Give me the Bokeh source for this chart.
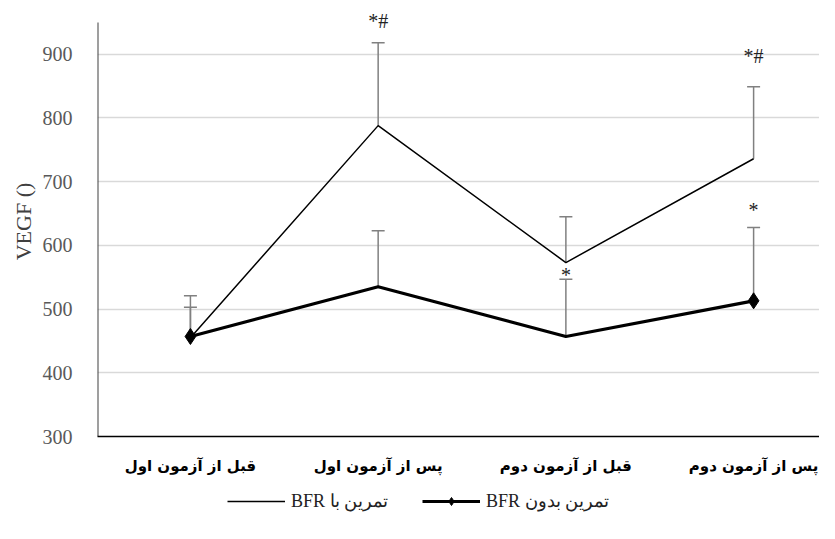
from bokeh.plotting import figure
from bokeh.layouts import column
from bokeh.models import (Range1d, FixedTicker, Legend, LegendItem, Label)
from bokeh.embed import file_html
from bokeh.resources import INLINE

# ---- data ----
categories = ["قبل از آزمون اول", "پس از آزمون اول", "قبل از آزمون دوم", "پس از آزمون دوم"]
with_bfr = [455, 788, 573, 736]
with_bfr_err = [66, 130, 72, 113]
without_bfr = [457, 535, 457, 513]
without_bfr_err = [46, 88, 90, 115]
without_marker_idx = [0, 3]
legend_with = "BFR تمرین با"
legend_without = "BFR تمرین بدون"
y_ticks = [300, 400, 500, 600, 700, 800, 900]
y_label = "VEGF ()"
y_min, y_axis_top = 300, 950
sig_x = [2, 4, 3, 4]
sig_y = [952, 898, 553, 655]
sig_text = ["*#", "*#", "*", "*"]

xs = [1, 2, 3, 4]
x_start = 0.505

p = figure(width=819, height=480, output_backend="svg", toolbar_location=None,
           x_range=Range1d(x_start, 4.351), y_range=Range1d(y_min, 975),
           min_border_left=97, min_border_right=0, min_border_top=6,
           min_border_bottom=44)
p.outline_line_color = None

# grid
p.xgrid.grid_line_color = None
p.ygrid.grid_line_color = "#d9d9d9"
p.ygrid.grid_line_width = 1.3
p.ygrid.ticker = FixedTicker(ticks=y_ticks[1:])

# axes
p.yaxis.ticker = FixedTicker(ticks=y_ticks)
p.yaxis.major_tick_line_color = None
p.yaxis.minor_tick_line_color = None
p.yaxis.axis_line_color = None
p.yaxis.major_label_text_font = "Liberation Serif"
p.yaxis.major_label_text_font_size = "20px"
p.yaxis.major_label_text_color = "#595959"
p.yaxis.major_label_standoff = 19
p.yaxis.axis_label = y_label
p.yaxis.axis_label_text_font = "Liberation Serif"
p.yaxis.axis_label_text_font_style = "normal"
p.yaxis.axis_label_text_font_size = "22px"
p.yaxis.axis_label_text_color = "#404040"
p.yaxis.axis_label_standoff = 4

p.xaxis.ticker = FixedTicker(ticks=xs)
p.xaxis.major_label_overrides = {x: c for x, c in zip(xs, categories)}
p.xaxis.major_tick_line_color = None
p.xaxis.minor_tick_line_color = None
p.xaxis.axis_line_color = "black"
p.xaxis.axis_line_width = 1.5
p.xaxis.major_label_text_font = "DejaVu Sans"
p.xaxis.major_label_text_font_style = "bold"
p.xaxis.major_label_text_font_size = "15px"
p.xaxis.major_label_text_color = "black"
p.xaxis.major_label_standoff = 14

# vertical axis line (stops at the axis top)
p.segment(x0=[x_start], y0=[y_min], x1=[x_start], y1=[y_axis_top],
          line_color="#404040", line_width=2)

# error bars (upward only)
err_col = "#808080"
for vals, errs in ((with_bfr, with_bfr_err), (without_bfr, without_bfr_err)):
    tops = [v + e for v, e in zip(vals, errs)]
    p.segment(x0=xs, y0=vals, x1=xs, y1=tops, line_color=err_col, line_width=1.5)
    p.scatter(x=xs, y=tops, marker="dash", size=13, line_color=err_col, line_width=1.5)

# lines
p.line(xs, with_bfr, line_color="black", line_width=1.5)
p.line(xs, without_bfr, line_color="black", line_width=3.2)
p.scatter([xs[i] for i in without_marker_idx],
          [without_bfr[i] for i in without_marker_idx],
          marker="diamond", size=16, fill_color="black", line_color="black")

# significance marks
for x, y, t in zip(sig_x, sig_y, sig_text):
    p.add_layout(Label(x=x, y=y, text=t, text_font="Liberation Serif",
                       text_font_size="20px", text_color="#222222",
                       text_align="center", text_baseline="middle"))

# legend figure below (proxy glyphs lie outside its visible range)
lf = figure(width=819, height=43, output_backend="svg", toolbar_location=None,
            x_range=Range1d(0, 1), y_range=Range1d(0, 1),
            min_border=0)
lf.outline_line_color = None
lf.axis.visible = False
lf.grid.visible = False
lr_with = lf.line([-5, -4], [-5, -5], line_color="black", line_width=1.5)
lr_without = lf.line([-5, -4], [-5, -5], line_color="black", line_width=3.2)
lr_diam = lf.scatter([-5], [-5], marker="diamond", size=15, fill_color="black", line_color="black")
legend = Legend(items=[LegendItem(label=legend_with, renderers=[lr_with]),
                       LegendItem(label=legend_without, renderers=[lr_without, lr_diam])],
                orientation="horizontal", location=(130, 11),
                label_text_font="Liberation Serif",
                label_text_font_size="18px", label_text_color="#222222",
                glyph_width=58, spacing=34, label_standoff=6,
                border_line_color=None, background_fill_alpha=0,
                margin=0, padding=2)
lf.add_layout(legend, "center")

open("out.html", "w").write(file_html(column(p, lf, spacing=0), INLINE))
